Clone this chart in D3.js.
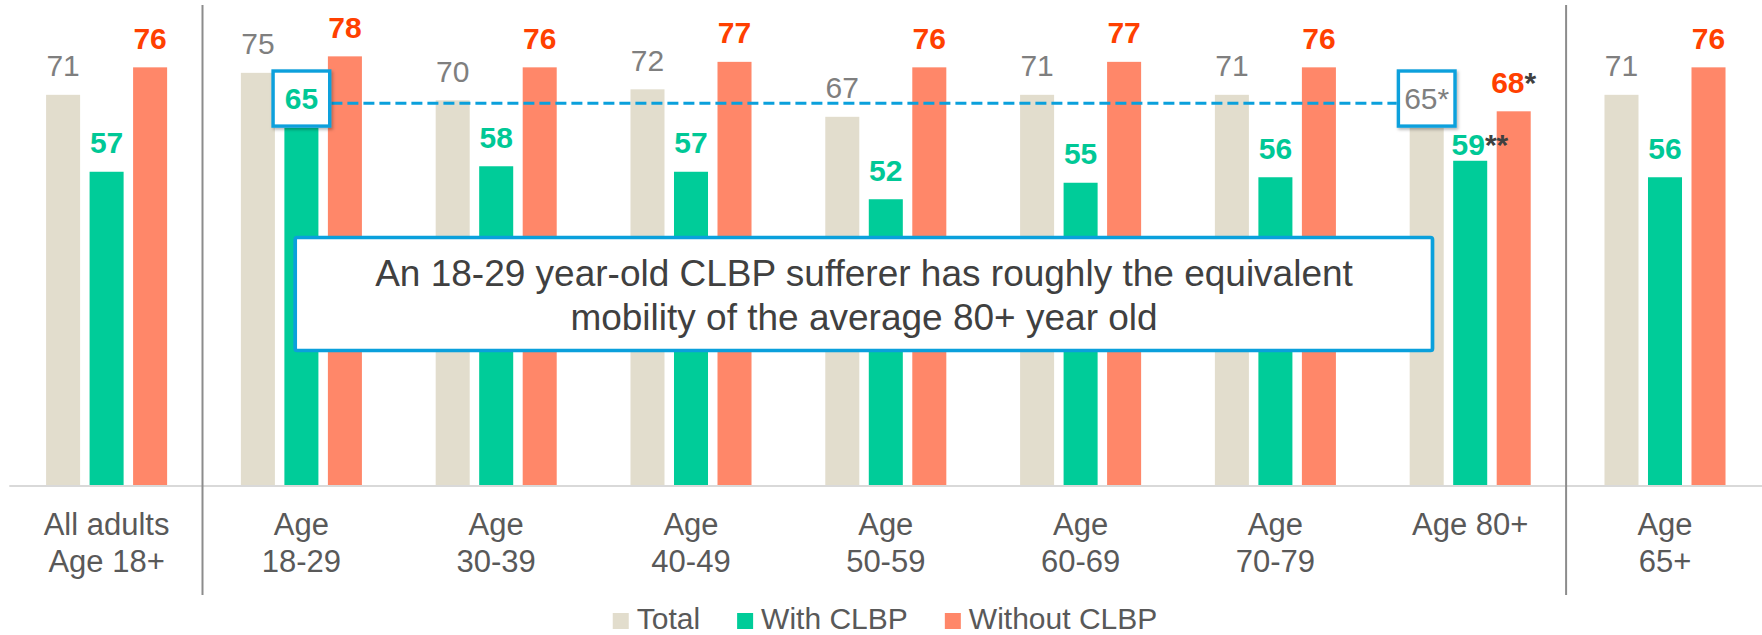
<!DOCTYPE html>
<html>
<head>
<meta charset="utf-8">
<script src="https://cdn.jsdelivr.net/npm/d3@7"></script>
<style>
  html, body { margin: 0; padding: 0; background: #ffffff; }
  svg { display: block; font-family: "Liberation Sans", Arial, Helvetica, sans-serif; }
</style>
</head>
<body>
<svg id="chart" width="1762" height="635"></svg>
<script>
// Mobility score by age group, with and without chronic lower back pain (CLBP)
const categories = ["All adults|Age 18+", "Age|18-29", "Age|30-39", "Age|40-49", "Age|50-59",
                    "Age|60-69", "Age|70-79", "Age 80+", "Age|65+"];
const totalValues   = [71, 75, 70, 72, 67, 71, 71, 65, 71];
const withValues    = [57, 65, 58, 57, 52, 55, 56, 59, 56];
const withoutValues = [76, 78, 76, 77, 76, 77, 76, 68, 76];
const totalNotes    = ["", "", "", "", "", "", "", "*", ""];
const withNotes     = ["", "", "", "", "", "", "", "**", ""];
const withoutNotes  = ["", "", "", "", "", "", "", "*", ""];
const seriesNames   = ["Total", "With CLBP", "Without CLBP"];
const calloutText   = ["An 18-29 year-old CLBP sufferer has roughly the equivalent",
                       "mobility of the average 80+ year old"];
// marks that are boxed and joined by the dashed comparison line
const highlighted = [{ series: "With CLBP", category: "Age|18-29" },
                     { series: "Total", category: "Age 80+" }];

const series = [
  { name: seriesNames[0], values: totalValues,   notes: totalNotes,
    fill: "#E2DDCD", label: "#7F7F7F", weight: "normal", noteColor: "#7F7F7F" },
  { name: seriesNames[1], values: withValues,    notes: withNotes,
    fill: "#00CC99", label: "#00C896", weight: "bold",   noteColor: "#404040" },
  { name: seriesNames[2], values: withoutValues, notes: withoutNotes,
    fill: "#FF8769", label: "#FF4000", weight: "bold",   noteColor: "#404040" }
];

const W = 1762, H = 635;
const svg = d3.select("#chart");
const BLUE = "#0AA0DC";

const defs = svg.append("defs");
const shadow = defs.append("filter").attr("id", "boxShadow")
  .attr("x", "-20%").attr("y", "-20%").attr("width", "150%").attr("height", "150%");
shadow.append("feDropShadow").attr("dx", 1.5).attr("dy", 2).attr("stdDeviation", 1.6)
  .attr("flood-color", "#000").attr("flood-opacity", 0.28);

const x0 = d3.scaleBand().domain(categories).range([9.2, 1762.4])
  .paddingInner(0.33).paddingOuter(0.165);
const x1 = d3.scaleBand().domain(seriesNames).range([0, x0.bandwidth()])
  .paddingInner(0.218).paddingOuter(0.109);
const y = d3.scaleLinear().domain([0, 88]).range([485, 1.4]);

const barCenter = (s, c) => x0(c) + x1(s) + x1.bandwidth() / 2;

// baseline axis
const xAxis = svg.append("g").attr("transform", "translate(0,486)")
  .call(d3.axisBottom(x0).tickSize(0).tickFormat(""));
xAxis.select(".domain").attr("d", "M9.3,0H1762").attr("stroke", "#D9D9D9").attr("stroke-width", 2);

// section dividers: after "All adults" and before "Age 65+"
const boundary = i => x0(categories[i]) - x0.step() * x0.paddingInner() / 2;
[1, categories.length - 1].forEach(i => {
  svg.append("line")
    .attr("x1", boundary(i) - 1.5).attr("x2", boundary(i) - 1.5)
    .attr("y1", 5).attr("y2", 595)
    .attr("stroke", "#8C8C8C").attr("stroke-width", 2);
});

// bars
const groups = svg.append("g").selectAll("g").data(categories).join("g")
  .attr("transform", c => `translate(${x0(c)},0)`);
series.forEach(s => {
  groups.append("rect")
    .attr("x", x1(s.name))
    .attr("width", x1.bandwidth())
    .attr("y", (c, i) => y(s.values[i]))
    .attr("height", (c, i) => y(0) - y(s.values[i]))
    .attr("fill", s.fill);
});

// category labels
svg.append("g").selectAll("text").data(categories).join("text")
  .attr("x", c => x0(c) + x0.bandwidth() / 2)
  .attr("y", 535)
  .attr("text-anchor", "middle")
  .attr("font-size", 31)
  .attr("fill", "#595959")
  .each(function (c) {
    const lines = c.split("|");
    d3.select(this).selectAll("tspan").data(lines).join("tspan")
      .attr("x", x0(c) + x0.bandwidth() / 2)
      .attr("dy", (d, j) => j === 0 ? 0 : 37)
      .text(d => d);
  });

// callout boxes around highlighted value labels
const LABEL_GAP = 18.5;
const callouts = highlighted.map(h => {
  const s = series.find(d => d.name === h.series);
  const v = s.values[categories.indexOf(h.category)];
  const cx = barCenter(h.series, h.category);
  const base = y(v) - LABEL_GAP;
  return { ...h, cx, base, x: cx - 30, y: base - 40, w: 60, h: y(v) - (base - 40) };
});

// dashed comparison line between the boxed values
const cA = callouts[0], cB = callouts[1];
svg.append("line")
  .attr("x1", cA.x + cA.w).attr("x2", cB.x)
  .attr("y1", cA.base - 6).attr("y2", cB.base - 6)
  .attr("stroke", BLUE).attr("stroke-width", 3).attr("stroke-dasharray", "11 5");

svg.append("g").selectAll("rect").data(callouts).join("rect")
  .attr("x", d => d.x + 1.7).attr("y", d => d.y + 1.7)
  .attr("width", d => d.w - 3.4).attr("height", d => d.h - 3.4)
  .attr("fill", "#fff").attr("stroke", BLUE).attr("stroke-width", 3.4)
  .attr("filter", "url(#boxShadow)");

// value labels
const labelLayer = svg.append("g").attr("font-size", 30);
series.forEach(s => {
  categories.forEach((c, i) => {
    const cx = barCenter(s.name, c);
    const t = labelLayer.append("text")
      .attr("x", cx)
      .attr("y", y(s.values[i]) - LABEL_GAP)
      .attr("text-anchor", "middle")
      .attr("font-weight", s.weight)
      .attr("fill", s.label);
    const num = t.append("tspan").text(s.values[i]);
    if (s.notes[i]) t.append("tspan").attr("fill", s.noteColor).text(s.notes[i]);
    // keep labels clear of callout boxes that belong to other marks
    const b = t.node().getBBox();
    callouts.forEach(cb => {
      if (cb.series === s.name && cb.category === c) return;
      const overlapX = b.x < cb.x + cb.w && b.x + b.width > cb.x;
      const overlapY = b.y < cb.y + cb.h && b.y + b.height > cb.y;
      if (overlapX && overlapY) {
        // drop below the box and keep the number itself over its bar
        const numW = num.node().getComputedTextLength();
        t.attr("y", cb.y + cb.h + 27)
          .attr("text-anchor", "start")
          .attr("x", cx - numW / 2 - 2);
      }
    });
  });
});

// key message box
const msg = svg.append("g");
msg.append("rect")
  .attr("x", 295.2).attr("y", 237.5).attr("width", 1137.3).attr("height", 113)
  .attr("rx", 2)
  .attr("fill", "#fff").attr("stroke", BLUE).attr("stroke-width", 3.7);
msg.append("text")
  .attr("x", 864).attr("y", 286)
  .attr("text-anchor", "middle").attr("font-size", 37).attr("fill", "#404040")
  .selectAll("tspan").data(calloutText).join("tspan")
  .attr("x", 864).attr("dy", (d, j) => j === 0 ? 0 : 44)
  .text(d => d);

// legend
const legend = svg.append("g");
let lx = 0;
series.forEach(s => {
  const item = legend.append("g").attr("transform", `translate(${lx},0)`);
  item.append("rect").attr("x", 0).attr("y", 613).attr("width", 16).attr("height", 16).attr("fill", s.fill);
  const t = item.append("text").attr("x", 24).attr("y", 629)
    .attr("font-size", 30).attr("fill", "#595959").text(s.name);
  lx += 24 + t.node().getComputedTextLength() + 37;
});
const legendWidth = lx - 37;
legend.attr("transform", `translate(${885 - legendWidth / 2},0)`);
</script>
</body>
</html>
